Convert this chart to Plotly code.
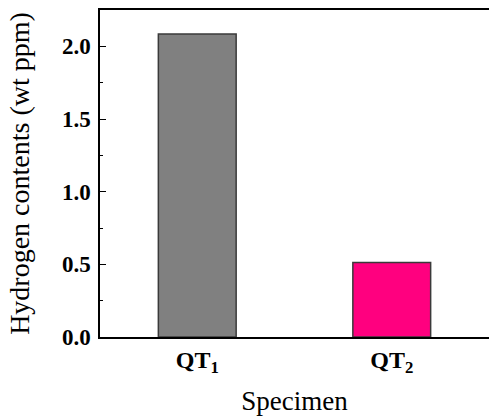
import plotly.graph_objects as go

categories = ["QT<sub>1</sub>", "QT<sub>2</sub>"]
hydrogen = [2.085, 0.512]
bar_colors = ["#808080", "#FF007F"]

fig = go.Figure()
fig.add_trace(go.Bar(
    x=categories, y=hydrogen, width=0.4,
    marker=dict(color=bar_colors, line=dict(color="#3a3a3a", width=1.5)),
))

font_serif = "Liberation Serif, Times New Roman, serif"
fig.update_layout(
    width=489, height=416, autosize=False,
    margin=dict(l=100, r=0, t=10, b=79, autoexpand=False),
    plot_bgcolor="white", paper_bgcolor="white",
    showlegend=False,
    font=dict(family=font_serif, color="black"),
)
fig.update_xaxes(
    range=[-0.5, 1.5], automargin=False,
    showline=True, linecolor="black", linewidth=1.5, mirror=True,
    ticks="", showgrid=False,
    tickfont=dict(family=font_serif, size=24, color="black", weight="bold"),
    title=dict(text="Specimen", font=dict(family=font_serif, size=27), standoff=16),
)
fig.update_yaxes(
    range=[0, 2.25], dtick=0.5, tickformat=".1f", automargin=False,
    showline=True, linecolor="black", linewidth=1.5, mirror=False,
    ticks="inside", ticklen=6, tickwidth=1, tickcolor="black",
    minor=dict(dtick=0.25, ticks="inside", ticklen=3, tickcolor="black", showgrid=False),
    showgrid=False, zeroline=False, ticklabelstandoff=3,
    tickfont=dict(family=font_serif, size=23, color="black", weight="bold"),
    title=dict(text="Hydrogen contents (wt ppm)", font=dict(family=font_serif, size=28), standoff=24),
)

post = ("document.body.style.margin='0';document.body.style.padding='0';"
        "document.body.style.overflow='hidden';"
        "var gd=document.getElementById('{plot_id}');"
        "Plotly.relayout(gd,{width:489,height:416});")
fig.write_html("out.html", config={"responsive": False, "displayModeBar": False}, post_script=post)
